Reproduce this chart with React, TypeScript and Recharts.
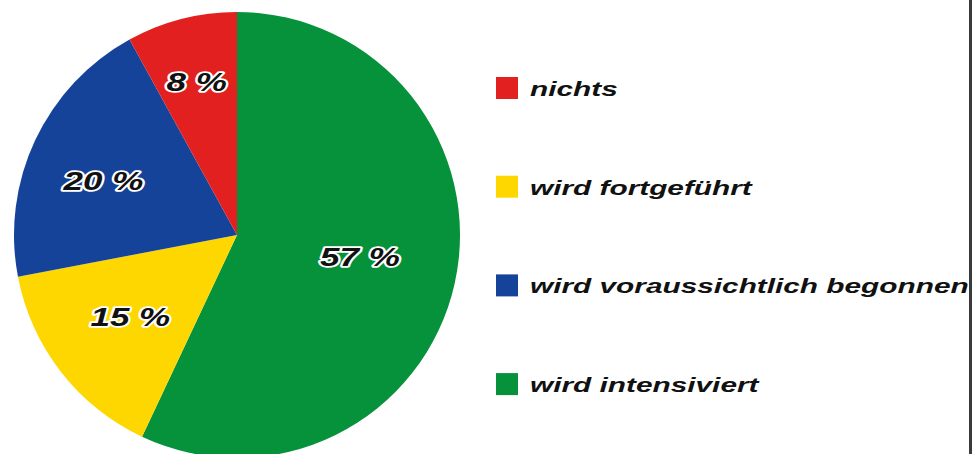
import React from "react";
import { PieChart, Pie, Cell, Legend } from "recharts";

const categories = ["wird intensiviert", "wird fortgeführt", "wird voraussichtlich begonnen", "nichts"];
const values = [57, 15, 20, 8];
const colors = ["#05923A", "#FED700", "#16439A", "#E2201F"];
const legendOrder = [3, 1, 2, 0];

// label placement styling (radius, angle offset in degrees)
const labelRadius = [125, 135, 144, 158];
const labelAngleOffset = [2, 0, 3.3, 0.4];

const data = categories.map((name, i) => ({ name, value: values[i] }));

const RAD = Math.PI / 180;

const renderLabel = (props: any) => {
  const { cx, cy, midAngle, index, value } = props;
  const a = (midAngle + labelAngleOffset[index]) * RAD;
  const r = labelRadius[index];
  const x = cx + r * Math.cos(a);
  const y = cy - r * Math.sin(a);
  return (
    <g transform={`translate(${x},${y + 8.5}) scale(1.4,1)`}>
      <text
        x={0}
        y={0}
        textAnchor="middle"
        fontFamily="'Liberation Sans', Arial, sans-serif"
        fontWeight="bold"
        fontStyle="italic"
        fontSize={25}
        fill="#111"
        stroke="#fff"
        strokeWidth={3.5}
        strokeLinejoin="round"
        paintOrder="stroke"
      >
        {`${value} %`}
      </text>
    </g>
  );
};

const LegendContent = () => (
  <svg width={480} height={340}>
    {legendOrder.map((idx, k) => {
      const top = k * 98.7;
      return (
        <g key={idx}>
          <rect x={0} y={top} width={22} height={22} fill={colors[idx]} />
          <g transform={`translate(34,${top + 19}) scale(1.42,1)`}>
            <text
              x={0}
              y={0}
              fontFamily="'Liberation Sans', Arial, sans-serif"
              fontWeight="bold"
              fontStyle="italic"
              fontSize={21}
              fill="#111"
            >
              {categories[idx]}
            </text>
          </g>
        </g>
      );
    })}
  </svg>
);

export default function App() {
  return (
    <div style={{ position: "absolute", left: 0, top: 0, width: 973, height: 454, background: "#fff", overflow: "hidden" }}>
      <PieChart width={973} height={454} margin={{ top: 0, right: 0, bottom: 0, left: 0 }}>
        <Pie
          data={data}
          dataKey="value"
          nameKey="name"
          cx={237}
          cy={235}
          outerRadius={223}
          startAngle={90}
          endAngle={-270}
          stroke="none"
          labelLine={false}
          label={renderLabel}
          isAnimationActive={false}
        >
          {data.map((d, i) => (
            <Cell key={d.name} fill={colors[i]} />
          ))}
        </Pie>
        <Legend
          content={<LegendContent />}
          wrapperStyle={{ position: "absolute", left: 496, top: 77, width: 480, height: 340 }}
        />
      </PieChart>
      <div style={{ position: "absolute", left: 969, top: 0, width: 3, height: 454, background: "#3a3a3a" }} />
    </div>
  );
}
